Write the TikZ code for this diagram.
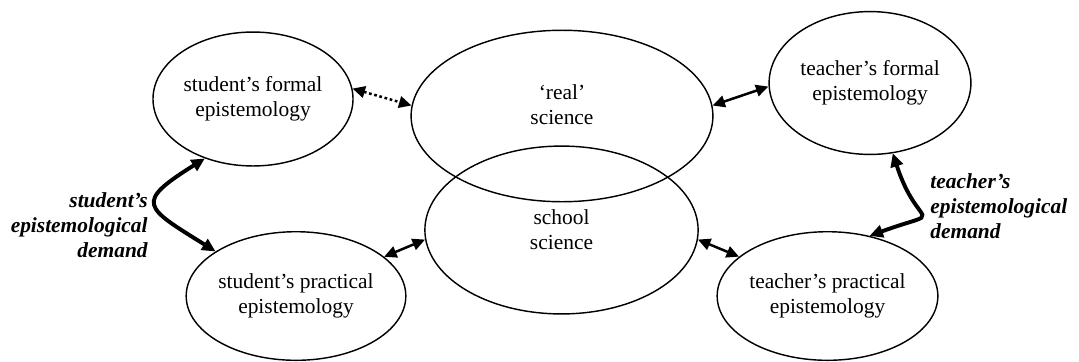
\documentclass[tikz,border=0pt]{standalone}
\usepackage{fontspec}
\setmainfont{Liberation Serif}
\usetikzlibrary{arrows.meta}
\usetikzlibrary{shapes.geometric}

\tikzset{
  blob/.style={draw, ellipse, line width=0.8pt, inner sep=0pt, align=center},
  link/.style={line width=1.4pt, {Triangle[length=7pt,width=6.5pt]}-{Triangle[length=7pt,width=6.5pt]}},
  demand/.style={line width=2.2pt, {Triangle[length=7.5pt,width=7pt]}-{Triangle[length=7.5pt,width=7pt]}},
  tag/.style={font=\bfseries\itshape, inner sep=0pt}
}

\begin{document}
\begin{tikzpicture}[scale=0.984]
  \fontsize{12}{14}\selectfont
  \useasboundingbox (0,0) rectangle (21.58,7.22);

  % the two sciences in the middle
  \node[blob, minimum width=169pt, minimum height=96pt] (real) at (11.24,4.90) {};
  \node[align=center, inner sep=0pt] (realtext) at ([yshift=6.4pt]real.center) {`real'\\science};
  \node[blob, minimum width=153pt, minimum height=94pt] (school) at (11.23,2.62) {school\\science};

  % student side
  \node[blob, minimum width=112pt, minimum height=75pt] (sform) at (5.06,5.24) {student's formal\\epistemology};
  \node[blob, minimum width=114pt, minimum height=72pt] (sprac) at (5.92,1.30) {student's practical\\epistemology};

  % teacher side
  \node[blob, minimum width=113pt, minimum height=80pt] (tform) at (17.40,5.56) {teacher's formal\\epistemology};
  \node[blob, minimum width=114pt, minimum height=72pt] (tprac) at (16.55,1.30) {teacher's practical\\epistemology};

  \node[tag, anchor=east, align=right] (sdemand) at (2.96,2.72) {student's\\epistemological\\demand};
  \node[tag, anchor=west, align=left] (tdemand) at (18.60,3.10) {teacher's\\epistemological\\demand};

  % links
  \draw[link, dash pattern=on 1.5pt off 1.5pt] (sform.6) -- (real.176);
  \draw[link] (real.4) -- (tform.182);
  \draw[link] (sprac.24) -- (school.184);
  \draw[link] (school.-4) -- (tprac.156);

  \draw[demand] (sform.231) to[out=212, in=148, looseness=2.3] (sprac.151);
  \draw[demand] (tform.-72) to[out=-72, in=20, looseness=2.5] (tprac.55);

\end{tikzpicture}
\end{document}
